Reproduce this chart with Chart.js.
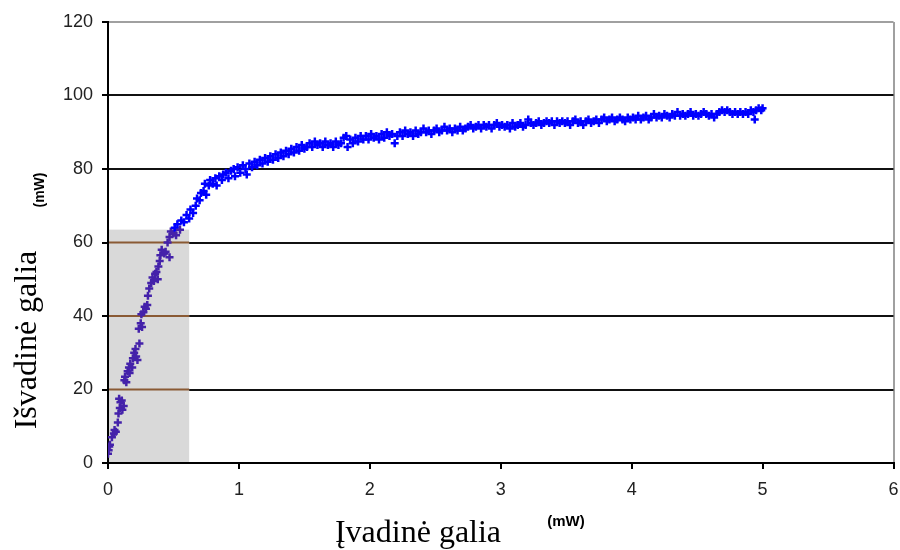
<!DOCTYPE html>
<html>
<head>
<meta charset="utf-8">
<script src="https://cdn.jsdelivr.net/npm/chart.js@4.4.1/dist/chart.umd.min.js"></script>
<style>
  html, body { margin: 0; padding: 0; background: #fff; }
  #wrap { width: 900px; height: 550px; position: relative; }
</style>
</head>
<body>
<div id="wrap"><canvas id="chart" width="900" height="550"></canvas></div>
<script>
// measured input power (mW)
const inputPower = [
  0.00,0.005,0.01,0.015,0.03,0.045,0.05,0.06,0.075,0.08,0.09,0.085,0.095,0.105,0.11,0.12,
  0.125,0.13,0.14,0.15,0.16,0.165,0.17,0.185,0.19,0.20,0.21,0.215,0.225,0.24,0.235,0.25,
  0.26,0.255,0.27,0.28,0.29,0.30,0.305,0.315,0.33,0.34,0.35,0.36,0.37,0.38,0.385,0.395,
  0.40,0.41,0.43,0.44,0.47,0.455,0.47,0.48,0.50,0.51,0.52,0.53,0.55,0.56,0.58,0.60,
  0.62,0.63,0.65,0.67,0.68,0.70,0.71,0.73,0.74,0.75,0.77,0.78,0.80,0.82,0.83,0.85,
  0.87,0.88,0.90,0.92,0.94,0.96,0.97,0.99,1.01,1.03,1.05,1.06,1.08,1.10,1.12,1.14,
  1.16,1.18,1.20,1.22,1.24,1.26,1.28,1.30,1.32,1.34,1.36,1.38,1.40,1.42,1.44,1.46,
  1.48,1.50,1.52,1.54,1.56,1.58,1.60,1.62,1.64,1.66,1.68,1.70,1.72,1.74,1.76,1.78,
  1.80,1.82,1.83,1.85,1.87,1.89,1.91,1.93,1.95,1.97,1.99,2.01,2.03,2.05,2.07,2.09,
  2.11,2.13,2.15,2.17,2.19,2.21,2.23,2.25,2.27,2.29,2.31,2.33,2.35,2.37,2.39,2.41,
  2.43,2.45,2.47,2.49,2.51,2.53,2.55,2.57,2.59,2.61,2.63,2.65,2.67,2.69,2.71,2.73,
  2.75,2.77,2.79,2.81,2.83,2.85,2.87,2.89,2.91,2.93,2.95,2.97,2.99,3.01,3.03,3.05,
  3.07,3.09,3.11,3.13,3.15,3.17,3.19,3.21,3.23,3.25,3.27,3.29,3.31,3.33,3.35,3.37,
  3.39,3.41,3.43,3.45,3.47,3.49,3.51,3.53,3.55,3.57,3.59,3.61,3.63,3.65,3.67,3.69,
  3.71,3.73,3.75,3.77,3.79,3.81,3.83,3.85,3.87,3.89,3.91,3.93,3.95,3.97,3.99,4.01,
  4.03,4.05,4.07,4.09,4.11,4.13,4.15,4.17,4.19,4.21,4.23,4.25,4.27,4.29,4.31,4.33,
  4.35,4.37,4.39,4.41,4.43,4.45,4.47,4.49,4.51,4.53,4.55,4.57,4.59,4.61,4.63,4.65,
  4.67,4.69,4.71,4.73,4.75,4.77,4.79,4.81,4.83,4.85,4.87,4.89,4.91,4.93,4.94,4.95,
  4.97,4.99,5.00
];
// measured output power (mW)
const outputPower = [
  2.5,3.5,4.5,5,7,8,9,8.5,11,13.5,15,17.5,16.5,17,14.5,15.5,
  22.5,23.5,22,25,26,24.5,27,26,28.5,30,31,29,28,32.5,36.5,38,
  37,40.5,41,42.5,42,43,45.5,47.5,49,50.5,49.5,51.5,52,50,53.5,55,
  56.5,58,57,57.5,56,60,61.5,63,62.5,64,62,65,63.5,66,65.5,67.5,
  66.5,69,68,70,72,71.5,73.5,74,76,73,75.5,77,76,77.5,75.5,78,
  77,78.5,79,77.5,79.5,80,78,80.5,79,81,80,78.5,81.5,80.5,82,81,
  82.5,81.5,83,82,83.5,82.5,84,83,84.5,83.5,85,84,85.5,84.5,86,85,
  86.5,85.5,86,87,86,87.5,86.5,87,86,87.5,86.5,87,86,87.5,86.5,87,
  88.5,89,86,88,87,88.5,87.5,89,88,89,88,89.5,88.5,89,88,89.5,
  88.5,90,89,89.5,87,89,90,89,90.5,89.5,90,89,90.5,89.5,90,91,
  90,90.5,89.5,90.5,91,90,90.5,91.5,90.5,91,90,91,90.5,91.5,90.5,91,
  91.5,92,91,91.5,92,91,92,91.5,92,91,92,92.5,91.5,92,91.5,92,
  91,92.5,91.5,92,92.5,91.5,92,93.5,92.5,92,92.5,93,92,92.5,93,92.5,
  93,92,93,92.5,93,92.5,93,92,93,93.5,92.5,93,92,93,93.5,92.5,
  93,93.5,92.5,93.5,94,93,93.5,94,93,93.5,94,93.5,93,94,93.5,94,
  93.5,94.5,93.5,94,94.5,93.5,94,95,94,94.5,94,95,94.5,94,95,94.5,
  95.5,94.5,95,94.5,95,95.5,94.5,95,94.5,95,95.5,95,94.5,95,94,95,
  95.5,96,95.5,96,95.5,95,95.5,95,95.5,95,95.5,95,96,95.5,93.5,96,
  96.5,96,96.5
];
const yTicks = [0, 20, 40, 60, 80, 100, 120];
const xTicks = [0, 1, 2, 3, 4, 5, 6];

// shaded low-power region
const regionMaxX = 0.62;
const regionMaxY = 63.5;

const points = inputPower.map((x, i) => ({ x: x, y: outputPower[i] }));
const inRegion = p => p && p.x <= regionMaxX && p.y <= regionMaxY;

const regionPlugin = {
  id: 'region',
  beforeDatasetsDraw(chart) {
    const { ctx, scales: { x, y } } = chart;
    const left = x.getPixelForValue(0) + 1;
    const right = x.getPixelForValue(regionMaxX);
    const top = y.getPixelForValue(regionMaxY);
    const bottom = y.getPixelForValue(0) - 1;
    ctx.save();
    ctx.fillStyle = '#d9d9d9';
    ctx.fillRect(left, top, right - left, bottom - top);
    // grid lines show through the shading in brown
    ctx.strokeStyle = '#8a5a34';
    ctx.lineWidth = 2;
    [20, 40, 60].forEach(v => {
      const py = y.getPixelForValue(v);
      ctx.beginPath();
      ctx.moveTo(left, py);
      ctx.lineTo(right, py);
      ctx.stroke();
    });
    ctx.restore();
  }
};

const titlePlugin = {
  id: 'titles',
  afterDraw(chart) {
    const ctx = chart.ctx;
    ctx.save();
    ctx.fillStyle = '#000';
    ctx.textBaseline = 'middle';
    ctx.textAlign = 'center';
    // x axis title
    ctx.font = '32px "Liberation Serif"';
    ctx.fillText('Įvadinė galia', 418, 534);
    ctx.font = 'bold 15px "Liberation Sans"';
    ctx.fillText('(mW)', 566, 522);
    // y axis title
    ctx.translate(28, 340);
    ctx.rotate(-Math.PI / 2);
    ctx.font = '32px "Liberation Serif"';
    ctx.fillText('Išvadinė galia', 0, 0);
    ctx.restore();
    ctx.save();
    ctx.translate(40, 190);
    ctx.rotate(-Math.PI / 2);
    ctx.font = 'bold 14px "Liberation Sans"';
    ctx.textAlign = 'center';
    ctx.textBaseline = 'middle';
    ctx.fillText('(mW)', 0, 0);
    ctx.restore();
  }
};

new Chart(document.getElementById('chart'), {
  type: 'scatter',
  data: {
    datasets: [{
      data: points,
      pointStyle: 'cross',
      pointRadius: 4,
      pointBorderWidth: 2.5,
      borderColor: c => inRegion(c.raw) ? '#4422aa' : '#0000ff',
      backgroundColor: c => inRegion(c.raw) ? '#4422aa' : '#0000ff'
    }]
  },
  options: {
    responsive: false,
    animation: false,
    layout: { padding: { top: 22, right: 3, left: 0, bottom: 0 } },
    plugins: { legend: { display: false }, tooltip: { enabled: false } },
    scales: {
      x: {
        type: 'linear',
        min: 0,
        max: 6,
        afterBuildTicks: s => { s.ticks = xTicks.map(v => ({ value: v })); },
        // let the plot run close to the right edge; the last label overhangs
        afterFit: s => { s.height = 87; s.paddingLeft = 0; s.paddingRight = 0; },
        ticks: {
          padding: 10,
          color: '#222',
          font: { family: '"Liberation Sans"', size: 18 }
        },
        grid: {
          color: c => c.tick && c.tick.value === 6 ? '#a0a0a0' : 'rgba(0,0,0,0)',
          lineWidth: 2,
          tickColor: '#000',
          tickLength: 6,
          tickWidth: 2
        },
        border: { display: true, color: '#000', width: 2 }
      },
      y: {
        type: 'linear',
        min: 0,
        max: 120,
        afterBuildTicks: s => { s.ticks = yTicks.map(v => ({ value: v })); },
        afterFit: s => { s.width = 108; s.paddingTop = 0; s.paddingBottom = 0; },
        ticks: {
          padding: 9,
          color: '#222',
          font: { family: '"Liberation Sans"', size: 18 }
        },
        grid: {
          color: c => c.tick && c.tick.value === 120 ? '#a0a0a0' : '#111',
          lineWidth: 2,
          tickColor: '#000',
          tickLength: 6,
          tickWidth: 2
        },
        border: { display: true, color: '#000', width: 2 }
      }
    }
  },
  plugins: [regionPlugin, titlePlugin]
});
</script>
</body>
</html>
